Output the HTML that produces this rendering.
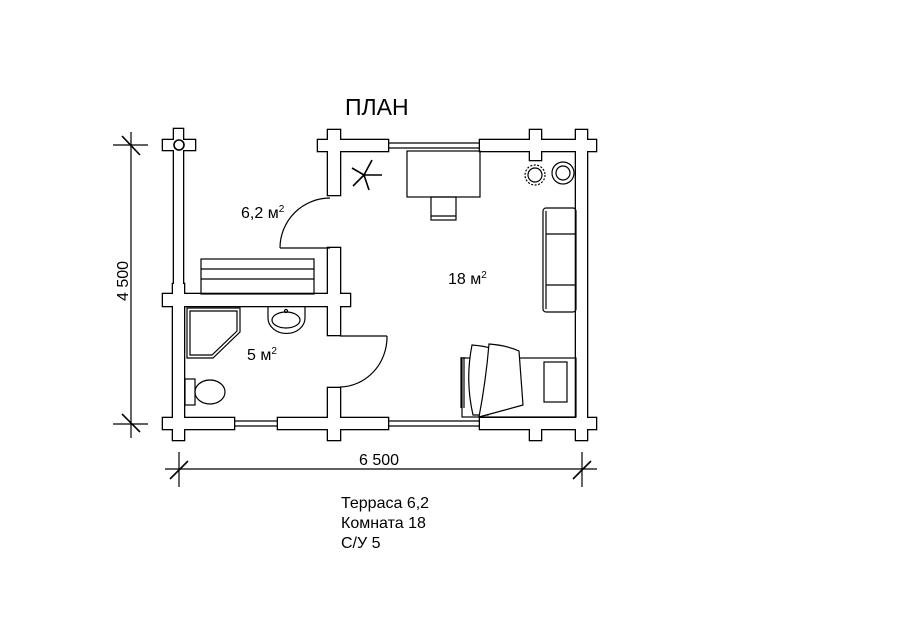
<!DOCTYPE html>
<html><head><meta charset="utf-8"><style>
html,body{margin:0;padding:0;background:#fff;}
svg{display:block;}
text{font-family:"Liberation Sans",Arial,sans-serif;fill:#000;}
</style></head><body>
<svg width="900" height="636" viewBox="0 0 900 636" xmlns="http://www.w3.org/2000/svg">
<rect width="900" height="636" fill="#fff"/>
<text x="345" y="115" font-size="23">ПЛАН</text>

<g stroke="#000" stroke-width="2.6" fill="#fff">
  <rect x="174" y="129" width="9" height="170"/>
  <rect x="163" y="140" width="32" height="10"/>
  <rect x="328" y="130" width="12" height="65"/>
  <rect x="328" y="248" width="12" height="87"/>
  <rect x="328" y="388" width="12" height="52"/>
  <rect x="318" y="140" width="70" height="11"/>
  <rect x="480" y="140" width="116" height="11"/>
  <rect x="530" y="130" width="11" height="30"/>
  <rect x="576" y="130" width="11" height="310"/>
  <rect x="163" y="294" width="187" height="12"/>
  <rect x="173" y="284" width="11" height="156"/>
  <rect x="163" y="418" width="71" height="11"/>
  <rect x="278" y="418" width="110" height="11"/>
  <rect x="480" y="418" width="116" height="11"/>
  <rect x="530" y="418" width="11" height="22"/>
</g>
<g fill="#fff" stroke="none">
  <rect x="174" y="129" width="9" height="170"/>
  <rect x="163" y="140" width="32" height="10"/>
  <rect x="328" y="130" width="12" height="65"/>
  <rect x="328" y="248" width="12" height="87"/>
  <rect x="328" y="388" width="12" height="52"/>
  <rect x="318" y="140" width="70" height="11"/>
  <rect x="480" y="140" width="116" height="11"/>
  <rect x="530" y="130" width="11" height="30"/>
  <rect x="576" y="130" width="11" height="310"/>
  <rect x="163" y="294" width="187" height="12"/>
  <rect x="173" y="284" width="11" height="156"/>
  <rect x="163" y="418" width="71" height="11"/>
  <rect x="278" y="418" width="110" height="11"/>
  <rect x="480" y="418" width="116" height="11"/>
  <rect x="530" y="418" width="11" height="22"/>
</g>
<g stroke="#000" fill="none" stroke-width="1.2">
  <circle cx="179" cy="145" r="5" fill="#fff" stroke-width="1.6"/>
  <line x1="388" y1="143" x2="480" y2="143"/><line x1="388" y1="148" x2="480" y2="148"/>
  <line x1="388" y1="421" x2="480" y2="421"/><line x1="388" y1="426" x2="480" y2="426"/>
  <line x1="234" y1="421" x2="278" y2="421"/><line x1="234" y1="426" x2="278" y2="426"/>
  <line x1="280" y1="248" x2="330" y2="248"/>
  <path d="M280 248 A50 50 0 0 1 330 198"/>
  <line x1="340" y1="336" x2="387" y2="336"/>
  <path d="M387 336 A48 50 0 0 1 340 387"/>
  <rect x="201" y="259" width="113" height="35"/>
  <line x1="201" y1="269" x2="314" y2="269"/><line x1="201" y1="279" x2="314" y2="279"/>
  <path d="M187 308 H240 V332 L213 358 H187 Z"/>
  <path d="M190 311 H237 V331 L212 355 H190 Z"/>
  <path d="M268 307 V318 A18 15 0 0 0 305 318 V307"/>
  <ellipse cx="286" cy="320" rx="14" ry="8"/>
  <circle cx="286" cy="311" r="1.5"/>
  <rect x="185" y="379" width="10" height="26"/>
  <ellipse cx="210" cy="392" rx="15" ry="12"/>
  <path d="M364 175 L382 175 M364 175 L372 160 M364 175 L352 168 M364 175 L353 186 M364 175 L369 190" stroke-width="1.6"/>
  <rect x="407" y="151" width="73" height="46"/>
  <rect x="431" y="197" width="25" height="23"/>
  <line x1="431" y1="216" x2="456" y2="216"/>
  <circle cx="535" cy="175" r="10" stroke-dasharray="2 1.5"/>
  <circle cx="535" cy="175" r="7"/>
  <circle cx="563" cy="173" r="11"/>
  <circle cx="563" cy="173" r="7"/>
  <rect x="543" y="208" width="33" height="104" rx="3"/>
  <line x1="546" y1="211" x2="546" y2="309"/>
  <line x1="546" y1="234" x2="576" y2="234"/><line x1="546" y1="285" x2="576" y2="285"/>
  <rect x="462" y="358" width="114" height="59"/>
  <line x1="461" y1="357" x2="461" y2="408"/><line x1="464" y1="357" x2="464" y2="408"/>
  <path d="M472 345 Q484 346 490 348 L488 415 L473 415 Q465 380 472 345Z" fill="#fff"/>
  <path d="M489 344 Q505 345 519 351 L523 405 L479 417 Q486 380 489 344Z" fill="#fff"/>
  <rect x="544" y="362" width="23" height="40"/>
  <line x1="131" y1="132" x2="131" y2="438"/>
  <line x1="113" y1="145" x2="148" y2="145"/><line x1="122" y1="136" x2="140" y2="155" stroke-width="1.6"/>
  <line x1="113" y1="424" x2="148" y2="424"/><line x1="122" y1="414" x2="140" y2="432" stroke-width="1.6"/>
  <line x1="165" y1="469" x2="597" y2="469"/>
  <line x1="179" y1="452" x2="179" y2="487"/><line x1="170" y1="479" x2="188" y2="461" stroke-width="1.6"/>
  <line x1="582" y1="452" x2="582" y2="487"/><line x1="573" y1="479" x2="591" y2="461" stroke-width="1.6"/>
</g>
<text x="241" y="218" font-size="16">6,2 м<tspan font-size="10" dy="-6">2</tspan></text>
<text x="448" y="284" font-size="16">18 м<tspan font-size="10" dy="-6">2</tspan></text>
<text x="247" y="360" font-size="16">5 м<tspan font-size="10" dy="-6">2</tspan></text>
<text x="359" y="465" font-size="16">6 500</text>
<text transform="translate(128 301) rotate(-90)" font-size="16">4 500</text>
<text x="341" y="508" font-size="16">Терраса 6,2</text>
<text x="341" y="528" font-size="16">Комната 18</text>
<text x="341" y="548" font-size="16">С/У 5</text>
</svg>
</body></html>
